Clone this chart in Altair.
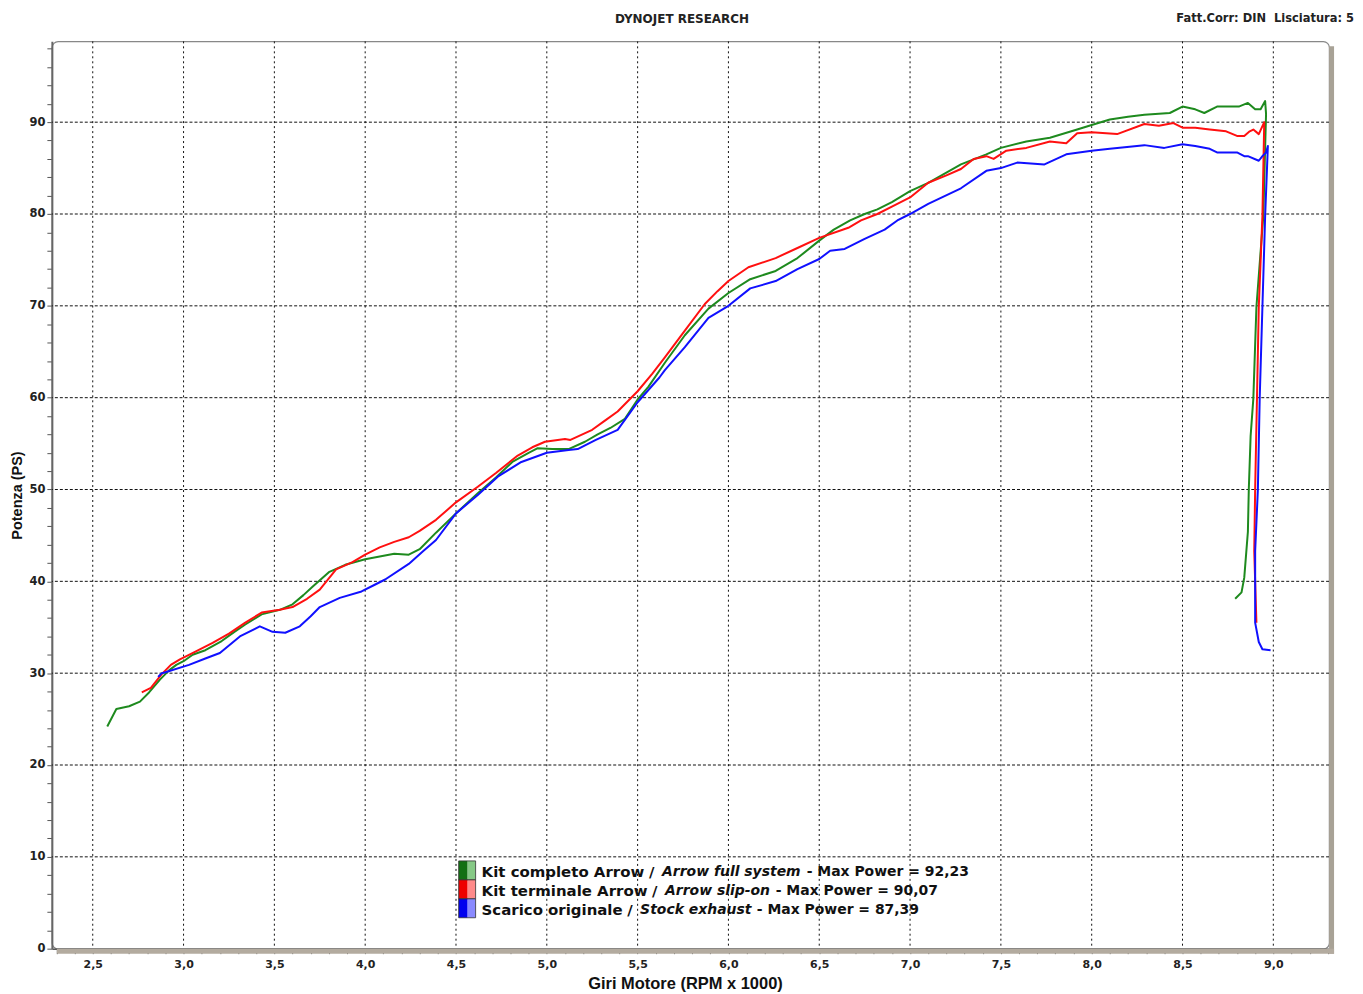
import altair as alt
import pandas as pd

# ---------------- data ----------------
series_names = [
    "Kit completo Arrow",
    "Kit terminale Arrow",
    "Scarico originale",
]

green_rpm = [2.58, 2.63, 2.70, 2.76, 2.81, 2.87, 2.92, 2.96, 3.00, 3.05, 3.12, 3.21, 3.28, 3.34,
             3.43, 3.53, 3.60, 3.66, 3.71, 3.80, 3.89, 4.00, 4.08, 4.16, 4.24, 4.30, 4.39, 4.50,
             4.62, 4.72, 4.81, 4.90, 4.95, 5.03, 5.12, 5.21, 5.28, 5.35, 5.43, 5.50, 5.56, 5.65,
             5.76, 5.89, 6.00, 6.12, 6.26, 6.38, 6.50, 6.58, 6.67, 6.75, 6.82, 6.90, 7.00, 7.10,
             7.20, 7.28, 7.42, 7.50, 7.64, 7.77, 7.92, 8.00, 8.10, 8.20, 8.29, 8.43, 8.50, 8.57,
             8.62, 8.69, 8.81, 8.86, 8.90, 8.93, 8.955, 8.96, 8.945, 8.907, 8.89, 8.875, 8.865,
             8.86, 8.84, 8.825, 8.79]
green_ps = [24.2, 26.1, 26.4, 26.9, 27.9, 29.3, 30.3, 30.9, 31.3, 32.0, 32.5, 33.5, 34.5, 35.3,
            36.4, 36.9, 37.5, 38.5, 39.4, 41.0, 41.8, 42.4, 42.7, 43.0, 42.9, 43.5, 45.3, 47.4,
            49.6, 51.3, 53.0, 54.0, 54.5, 54.4, 54.4, 55.2, 56.0, 56.7, 57.7, 59.8, 61.2, 63.8,
            66.8, 69.7, 71.4, 72.9, 73.8, 75.2, 77.1, 78.3, 79.3, 80.0, 80.5, 81.3, 82.5, 83.4,
            84.5, 85.4, 86.5, 87.2, 87.9, 88.3, 89.2, 89.7, 90.3, 90.6, 90.8, 91.0, 91.7, 91.4,
            91.0, 91.7, 91.7, 92.1, 91.4, 91.4, 92.3, 90.9, 79.8, 69.9, 59.9, 55.8, 50.0,
            45.4, 40.4, 38.8, 38.1]

red_rpm = [2.77, 2.82, 2.88, 2.93, 2.98, 3.06, 3.16, 3.25, 3.34, 3.43, 3.53, 3.60, 3.68, 3.75,
           3.84, 3.93, 4.00, 4.08, 4.16, 4.24, 4.30, 4.39, 4.50, 4.62, 4.72, 4.84, 4.92, 4.99,
           5.10, 5.13, 5.25, 5.32, 5.39, 5.50, 5.58, 5.65, 5.76, 5.87, 5.94, 6.00, 6.11, 6.26,
           6.38, 6.50, 6.66, 6.73, 6.82, 6.90, 7.00, 7.10, 7.20, 7.28, 7.35, 7.42, 7.46, 7.53,
           7.64, 7.77, 7.86, 7.92, 8.00, 8.14, 8.29, 8.37, 8.45, 8.50, 8.57, 8.65, 8.74, 8.80,
           8.84, 8.87, 8.89, 8.92, 8.95, 8.94, 8.92, 8.91, 8.90, 8.895, 8.90, 8.907]
red_ps = [27.9, 28.4, 29.9, 30.9, 31.5, 32.3, 33.3, 34.3, 35.5, 36.6, 36.9, 37.2, 38.1, 39.1,
          41.3, 42.1, 42.9, 43.7, 44.3, 44.8, 45.5, 46.7, 48.6, 50.3, 51.8, 53.7, 54.6, 55.2,
          55.5, 55.4, 56.5, 57.5, 58.5, 60.7, 62.6, 64.4, 67.3, 70.2, 71.6, 72.7, 74.2, 75.2,
          76.3, 77.4, 78.5, 79.3, 80.0, 80.8, 81.8, 83.4, 84.2, 84.9, 86.0, 86.3, 86.0, 86.9,
          87.2, 87.9, 87.7, 88.8, 88.9, 88.7, 89.8, 89.6, 89.9, 89.4, 89.4, 89.2, 89.0, 88.5,
          88.5, 89.0, 89.2, 88.7, 90.0, 79.8, 69.9, 59.9, 50.0, 43.3, 40.0, 35.5]

blue_rpm = [2.86, 2.88, 2.90, 3.03, 3.12, 3.20, 3.31, 3.42, 3.49, 3.56, 3.64, 3.70, 3.75, 3.86,
            3.98, 4.05, 4.11, 4.24, 4.32, 4.39, 4.50, 4.62, 4.73, 4.86, 5.00, 5.12, 5.17, 5.27,
            5.39, 5.50, 5.62, 5.65, 5.76, 5.89, 6.00, 6.12, 6.26, 6.38, 6.50, 6.56, 6.64, 6.75,
            6.86, 6.93, 7.00, 7.10, 7.28, 7.42, 7.50, 7.59, 7.74, 7.86, 8.00, 8.10, 8.29, 8.40,
            8.50, 8.57, 8.65, 8.69, 8.80, 8.84, 8.86, 8.92, 8.94, 8.96, 8.97, 8.955, 8.94, 8.925,
            8.915, 8.90, 8.90, 8.92, 8.94, 8.985]
blue_ps = [29.6, 30.0, 30.1, 30.9, 31.6, 32.2, 34.0, 35.1, 34.5, 34.4, 35.1, 36.2, 37.2, 38.2,
           38.9, 39.6, 40.2, 41.9, 43.3, 44.5, 47.4, 49.4, 51.4, 53.0, 54.0, 54.3, 54.4, 55.4,
           56.5, 59.5, 62.2, 63.0, 65.5, 68.7, 70.0, 71.9, 72.7, 74.0, 75.1, 76.0, 76.2, 77.3,
           78.3, 79.3, 80.0, 81.1, 82.8, 84.7, 85.0, 85.6, 85.4, 86.5, 86.9, 87.1, 87.5, 87.2,
           87.6, 87.4, 87.1, 86.7, 86.7, 86.3, 86.3, 85.8, 86.3, 86.7, 87.4, 79.8, 69.9, 59.9,
           50.0, 43.3, 35.5, 33.4, 32.6, 32.5]

x_grid = [2.5, 3.0, 3.5, 4.0, 4.5, 5.0, 5.5, 6.0, 6.5, 7.0, 7.5, 8.0, 8.5, 9.0]
y_grid = [10, 20, 30, 40, 50, 60, 70, 80, 90]
x_ticks = [round(2.3 + 0.1 * i, 1) for i in range(71)]
y_ticks = list(range(0, 99, 2))

legend_main = ["Kit completo Arrow", "Kit terminale Arrow", "Scarico originale"]
legend_italic = ["Arrow full system", "Arrow slip-on", "Stock exhaust"]
legend_tail = ["- Max Power = 92,23", "- Max Power = 90,07", "- Max Power = 87,39"]

# ---------------- styling ----------------
line_colors = ["#1e8a1e", "#ff1010", "#1010ff"]
swatch_dark = ["#137013", "#ee0000", "#0000ee"]
swatch_light = ["#86c986", "#ff8a8a", "#8a8aff"]

W, H = 1281, 910
xscale = alt.Scale(domain=[2.275, 9.307], nice=False, zero=False)
yscale = alt.Scale(domain=[0, 98.8], nice=False, zero=False)

x_label_expr = ("abs(datum.value*2 - round(datum.value*2)) < 0.001 ? "
                "replace(format(datum.value, '.1f'), '.', ',') : ''")
y_label_expr = "datum.value % 10 == 0 ? datum.label : ''"

x_axis = alt.Axis(values=x_ticks, labelExpr=x_label_expr, grid=False,
                  title="Giri Motore (RPM x 1000)", titleFont="Liberation Sans",
                  titleFontSize=16.5, titleFontWeight="bold", titleColor="#111",
                  titleX=635, titleY=35, titleBaseline="middle", titleAlign="center",
                  labelFont="DejaVu Sans", labelFontSize=11, labelFontWeight="bold",
                  labelColor="#222", labelPadding=5, tickSize=5, tickColor="#444",
                  domainColor="#555", domainWidth=1.5, labelFlush=False,
                  labelOverlap=False)
y_axis = alt.Axis(values=y_ticks, labelExpr=y_label_expr, grid=False,
                  title="Potenza (PS)", titleFont="Liberation Sans",
                  titleFontSize=14.5, titleFontWeight="bold", titleColor="#111",
                  titleAngle=270, titleX=-34, titleY=455, titleAlign="center",
                  titleBaseline="middle",
                  labelFont="DejaVu Sans", labelFontSize=11.5, labelFontWeight="bold",
                  labelColor="#222", labelPadding=2, tickSize=5, tickColor="#555",
                  domainColor="#666", domainWidth=2, labelFlush=False,
                  labelOverlap=False)

rows = []
for name, xs, ys in zip(series_names, [green_rpm, red_rpm, blue_rpm], [green_ps, red_ps, blue_ps]):
    for i, (a, b) in enumerate(zip(xs, ys)):
        rows.append({"rpm": a, "ps": b, "serie": name, "idx": i})
df = pd.DataFrame(rows)

gx = alt.Chart(pd.DataFrame({"rpm": x_grid})).mark_rule(
    color="#111", strokeWidth=1, strokeDash=[2, 3]
).encode(x=alt.X("rpm:Q", scale=xscale, axis=x_axis))

gy = alt.Chart(pd.DataFrame({"ps": y_grid})).mark_rule(
    color="#111", strokeWidth=1, strokeDash=[3, 2]
).encode(y=alt.Y("ps:Q", scale=yscale, axis=y_axis))

lines = alt.Chart(df).mark_line(strokeWidth=2, strokeJoin="round").encode(
    x=alt.X("rpm:Q", scale=xscale, axis=x_axis),
    y=alt.Y("ps:Q", scale=yscale, axis=y_axis),
    color=alt.Color("serie:N", scale=alt.Scale(domain=series_names, range=line_colors),
                    legend=None),
    detail="serie:N",
    order="idx:Q",
)

one = pd.DataFrame({"a": [0]})

# frame shadow (right and bottom)
shadow_r = alt.Chart(one).mark_rect(color="#a8a296").encode(
    x=alt.value(W), x2=alt.value(W + 5), y=alt.value(5), y2=alt.value(H + 5))
shadow_b = alt.Chart(one).mark_rect(color="#b3ab9f").encode(
    x=alt.value(5), x2=alt.value(W + 5), y=alt.value(H), y2=alt.value(H + 5))

layers = [gx, gy, shadow_r, shadow_b, lines]

# title texts
layers.append(alt.Chart(one).mark_text(
    text="DYNOJET RESEARCH", font="DejaVu Sans", fontSize=12, fontWeight="bold",
    color="#222", align="center", baseline="middle").encode(x=alt.value(632), y=alt.value(-22)))
layers.append(alt.Chart(one).mark_text(
    text="Fatt.Corr: DIN\u00a0\u00a0Lisciatura: 5", font="DejaVu Sans", fontSize=11.5,
    fontWeight="bold", color="#222", align="right", baseline="middle").encode(
    x=alt.value(1306), y=alt.value(-22)))

# legend
leg_y = [833, 852, 871]
slash_x = [599, 602, 577]
ital_x = [612, 615, 590]
tail_x = [757, 726, 707]
for i in range(3):
    y0 = leg_y[i] - 11
    layers.append(alt.Chart(one).mark_rect(color=swatch_dark[i]).encode(
        x=alt.value(408), x2=alt.value(417), y=alt.value(y0), y2=alt.value(y0 + 19)))
    layers.append(alt.Chart(one).mark_rect(color=swatch_light[i]).encode(
        x=alt.value(417), x2=alt.value(425), y=alt.value(y0), y2=alt.value(y0 + 19)))
    layers.append(alt.Chart(one).mark_rect(fill=None, stroke="#333", strokeWidth=0.8).encode(
        x=alt.value(408), x2=alt.value(425), y=alt.value(y0), y2=alt.value(y0 + 19)))
    layers.append(alt.Chart(one).mark_text(
        text=legend_main[i], font="DejaVu Sans", fontSize=15, fontWeight="bold",
        color="#111", align="left", baseline="middle").encode(
        x=alt.value(431), y=alt.value(leg_y[i])))
    layers.append(alt.Chart(one).mark_text(
        text="/", font="DejaVu Sans", fontSize=15, fontWeight="bold",
        color="#111", align="left", baseline="middle").encode(
        x=alt.value(slash_x[i]), y=alt.value(leg_y[i])))
    layers.append(alt.Chart(one).mark_text(
        text=legend_italic[i], font="DejaVu Sans", fontSize=14, fontWeight="bold",
        fontStyle="italic", color="#111", align="left", baseline="middle").encode(
        x=alt.value(ital_x[i]), y=alt.value(leg_y[i])))
    layers.append(alt.Chart(one).mark_text(
        text=legend_tail[i], font="DejaVu Sans", fontSize=14, fontWeight="bold",
        color="#111", align="left", baseline="middle").encode(
        x=alt.value(tail_x[i]), y=alt.value(leg_y[i])))

chart = alt.layer(*layers).properties(
    width=W, height=H,
    padding={"left": 44, "top": 32, "right": 26, "bottom": 44},
    autosize=alt.AutoSizeParams(type="none"),
    background="white",
).configure_view(stroke="#888", strokeWidth=1.2, cornerRadius=6)

chart.save("out.html", embed_options={"renderer": "svg", "actions": False})
